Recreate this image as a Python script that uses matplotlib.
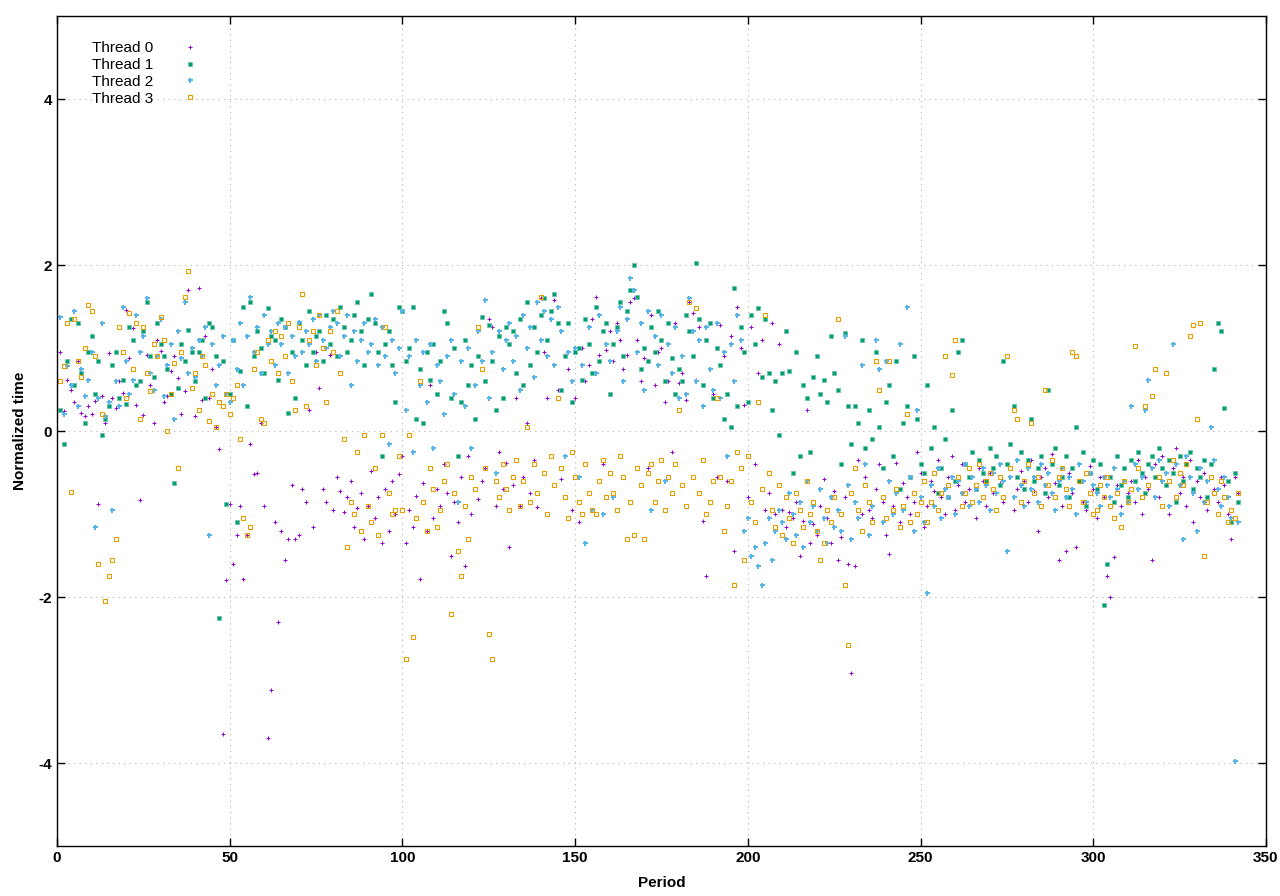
import numpy as np
import matplotlib
matplotlib.use("Agg")
import matplotlib.pyplot as plt

plt.rcParams['font.family'] = ['Liberation Sans', 'DejaVu Sans']
plt.rcParams['axes.unicode_minus'] = False

# normalized time per period for each thread (period 1..342)
thread0 = [
    0.95, 0.24, 0.62, 0.50, 0.35, 0.85, 0.22, 0.18, 0.30, 0.20,
    0.36, -0.88, 0.42, 0.10, 0.94, 0.40, 0.28, 0.60, 0.46, 1.46,
    0.88, 1.24, 0.31, -0.83, 0.19, 0.92, 0.55, 0.10, 1.10, 0.96,
    0.35, 0.42, 0.72, 0.90, 0.64, 0.20, 0.48, 1.70, 0.95, 0.18,
    1.72, 0.38, 1.15, 0.40, 0.75, 0.05, -0.22, -3.65, -1.80, -0.88,
    -1.60, -1.25, -0.90, -1.78, -1.25, -0.15, -0.52, -0.50, 0.10, -0.90,
    -3.70, -3.12, -1.10, -2.30, -1.20, -1.55, -1.30, -0.65, -1.30, -1.25,
    -0.70, -0.85, 0.25, -1.15, 0.95, 0.52, -0.70, -0.85, 0.92, -0.95,
    -0.55, -0.72, -0.98, -0.80, -0.60, -1.15, -0.93, -0.75, -1.30, -0.90,
    -0.48, -1.05, -0.80, -1.35, -0.70, -1.20, -0.60, -1.00, -0.52, -0.30,
    -1.35, -0.95, -1.15, -0.78, -1.78, -0.62, -1.20, 0.55, -1.05, -0.70,
    -0.90, -0.40, -0.75, -1.50, -0.85, -1.10, -0.55, -1.62, -0.30, -1.00,
    0.15, -0.82, -0.60, -0.45, 1.35, 1.25, -0.90, -0.25, -0.70, -0.38,
    -1.40, -0.65, 0.40, -0.90, -0.55, 0.10, -0.75, -0.35, -0.92, 1.60,
    0.95, 0.40, 1.35, 1.58, 0.50, -0.58, 0.92, 0.75, -0.95, 0.40,
    -1.10, 1.00, 0.60, 0.80, 1.35, 1.62, 0.92, -0.40, 0.98, 1.20,
    0.85, 1.30, 1.10, 0.75, 0.92, 1.55, 1.60, 1.10, 0.60, 0.88,
    -0.45, 1.40, 0.55, 0.95, 1.00, 0.35, 0.60, -0.25, 1.30, 0.58,
    0.70, 0.38, 1.55, 1.42, 0.62, 1.25, -1.08, -1.75, 1.30, 0.45,
    -0.55, 1.28, 0.90, -0.60, 1.15, -1.45, 1.50, 1.00, 0.32, -0.80,
    1.25, -0.40, 0.70, 1.10, -0.95, -0.75, 1.30, -1.00, 1.05, -0.95,
    -1.15, -0.98, -1.05, -0.85, -1.50, -1.08, 0.25, -1.35, -1.12, -1.25,
    -0.90, -0.58, -1.05, -1.35, -0.72, -1.55, -1.28, -0.80, -1.60, -2.92,
    -1.62, -0.35, -1.00, -0.55, -0.95, -1.05, -0.70, -0.40, -0.85, -1.25,
    -1.48, -0.90, -0.38, -1.10, -0.62, -0.80, -1.00, -0.85, -0.25, -0.50,
    -1.15, -0.90, -0.60, -0.72, -0.35, -0.80, -1.00, -0.55, -0.30, -0.95,
    -0.65, -0.40, -0.85, -0.70, -0.55, -1.05, -0.45, -0.60, -0.90, -0.50,
    -0.75, -0.30, -0.62, -0.85, -0.40, -0.55, -0.95, -0.70, -0.48, -0.60,
    -0.85, -0.35, -0.72, -1.20, -0.55, -0.45, -0.80, -0.28, -0.62, -1.55,
    -0.90, -1.45, -0.50, -0.75, -1.40, -0.60, -0.85, -0.95, -0.42, -0.70,
    -1.05, -0.55, -0.80, -1.75, -2.00, -1.52, -0.65, -0.90, -0.45, -0.75,
    -0.60, -0.85, -0.35, -1.00, -0.55, -0.70, -1.55, -0.40, -0.80, -0.30,
    -0.65, -1.00, -0.45, -0.20, -0.75, -0.55, -0.90, -0.35, -1.10, -0.60,
    -0.80, -0.50, -0.95, -0.40, -0.70, -0.85, -0.55, -0.65, -1.00, -1.30,
    -0.55, -0.75,
]
thread1 = [
    0.25, -0.15, 0.85, 1.35, 0.55, 1.30, 0.70, 0.10, 0.95, 1.15,
    0.45, 0.85, -0.05, 0.15, 0.30, 0.80, 0.95, 0.40, 0.62, 0.33,
    1.25, 1.10, 0.55, 0.60, 1.20, 1.55, 0.90, 0.65, 1.30, 1.05,
    0.90, 0.75, 0.45, -0.62, 0.52, 1.05, 0.85, 1.22, 0.95, 0.60,
    0.95, 1.10, 0.40, 1.30, 1.25, 0.90, -2.25, 0.85, -0.88, 0.45,
    1.10, -1.10, 0.72, 1.50, 0.30, 1.55, 0.90, 1.20, 1.00, 0.70,
    1.48, 1.15, 1.10, 0.62, 1.35, 1.25, 0.22, 0.95, 0.40, 1.30,
    1.10, 0.80, 1.45, 0.95, 1.15, 1.20, 0.85, 1.40, 1.05, 1.35,
    0.90, 1.50, 1.25, 0.95, 1.10, 1.40, 1.55, 1.20, 0.80, 1.35,
    1.65, 1.30, 0.95, -0.30, 1.05, 1.20, 0.80, 0.35, 1.50, 1.45,
    0.85, 1.00, 1.50, 0.15, 0.75, 0.10, 0.95, 0.62, 1.05, 0.45,
    0.85, 1.45, 1.30, 0.40, 1.00, -0.30, 0.35, 1.10, 0.55, 0.80,
    0.15, 0.90, 1.38, 0.60, 1.28, 0.85, 0.25, 1.15, 0.40, 1.25,
    1.05, 1.20, 0.70, 1.35, 0.55, 1.55, 0.80, 1.25, 0.95, 1.40,
    1.60, 1.10, 1.45, 1.65, 1.30, 0.50, 0.90, 1.30, 0.35, 0.95,
    1.00, 0.62, 1.35, 1.05, 0.70, 1.50, 0.85, 1.20, 1.30, 0.45,
    1.05, 1.25, 1.55, 0.90, 1.45, 1.70, 2.00, 1.62, 0.75, 1.00,
    0.85, 1.25, 0.95, 1.45, 1.10, 0.60, 1.30, 0.88, 0.45, 0.75,
    0.60, 1.40, 1.20, 0.90, 2.02, 1.35, 0.55, 1.10, 1.30, 0.40,
    1.00, 0.80, 0.15, 0.45, 0.05, 1.72, 0.30, 1.25, 0.95, 0.35,
    1.40, 1.05, 1.48, 0.65, 1.35, 0.70, 0.25, 0.60, -0.05, 0.70,
    1.20, 0.72, -0.50, 0.95, -0.30, 0.55, 0.40, -0.25, 0.65, 0.90,
    0.45, 0.62, 0.35, 1.15, 0.70, 0.50, -0.40, 1.18, 0.30, -0.15,
    0.30, 0.10, 1.10, -0.20, 0.25, -0.10, 0.95, 0.05, -0.45, 0.35,
    0.55, -0.30, 0.85, -0.70, 0.10, 0.30, -0.55, 0.90, 0.15, -0.40,
    -0.50, 0.55, -0.20, 0.05, -0.75, -0.45, -0.10, -0.80, 0.25, -0.60,
    0.95, 1.10, -0.40, -0.55, -0.25, -0.70, -0.35, -0.50, -0.60, -0.20,
    -0.45, -0.30, -0.65, 0.85, -0.40, -0.15, 0.30, -0.55, -0.25, -0.70,
    -0.35, 0.15, -0.60, -0.45, -0.30, -0.75, 0.50, -0.40, -0.20, -0.65,
    -0.55, -0.30, -0.80, -0.45, 0.05, -0.60, -0.25, -0.90, -0.50, -0.35,
    -0.70, -0.40, -2.10, -1.60, -0.55, -0.85, -0.30, -0.65, -0.45, -0.80,
    -0.35, -0.60, -0.25, -0.50, -0.75, -0.40, -0.30, -0.55, -0.20, -0.45,
    -0.65, -0.35, -0.50, -0.85, -0.30, -0.60, -0.40, -0.25, -0.70, -0.45,
    -0.55, -0.35, -0.80, -0.40, 0.75, 1.30, 1.20, 0.28, -0.60, -1.10,
    -0.50, -0.85,
]
thread2 = [
    1.38, 0.20, 0.78, 0.55, 1.45, 0.30, 0.75, 0.42, 0.62, 0.95,
    -1.15, 0.40, 1.30, 0.18, 0.35, -0.95, 0.60, 0.30, 1.50, 0.85,
    0.45, 0.62, 1.40, 0.95, 1.15, 1.60, 0.70, 0.50, 0.90, 1.35,
    0.42, 0.80, 1.05, 0.15, 1.20, 0.88, 1.55, 0.70, 1.00, 0.65,
    1.10, 0.90, 1.25, -1.25, 1.05, 0.55, 0.80, 1.15, 0.45, 0.35,
    1.10, 0.75, 1.30, 0.55, 1.15, 1.62, 0.95, 1.25, 0.70, 1.40,
    1.05, 1.20, 0.80, 1.30, 1.05, 1.25, 0.70, 1.15, 0.90, 1.32,
    0.95, 1.20, 1.05, 1.35, 0.85, 1.40, 1.10, 1.00, 1.25, 1.45,
    1.30, 0.90, 1.15, 1.40, 0.55, 1.20, 0.85, 1.10, 1.30, 0.95,
    1.05, 1.35, 0.80, 1.25, 0.90, -0.15, 1.10, 0.70, 1.00, 1.45,
    0.25, 0.90, -0.25, 1.10, 0.55, 0.95, 0.35, 1.05, -0.20, 0.80,
    0.60, 0.20, 0.90, 1.10, 0.45, -0.85, 0.85, 0.30, 1.00, -0.20,
    0.55, 1.20, 0.85, 1.58, 0.40, 0.95, -0.50, 1.20, 0.75, 1.10,
    1.30, 0.85, 1.15, 0.50, 1.40, 1.00, 1.25, 0.65, 1.55, 1.10,
    1.45, 0.90, 1.35, 0.80, 1.50, 1.20, -0.30, 0.95, 0.60, 1.00,
    -0.55, 0.80, -1.35, 1.25, -0.95, 0.70, 1.40, -1.00, 1.05, 0.85,
    -0.80, 1.20, 1.50, 0.60, 1.35, 1.85, 1.70, 0.95, 1.30, 0.50,
    1.45, -0.95, 1.15, 0.80, 1.40, -0.60, 1.05, 0.70, 1.25, 0.40,
    0.90, 0.45, 1.60, 1.20, 0.60, 1.10, 0.30, 1.25, 0.75, 0.50,
    1.30, 0.40, 0.95, -0.30, 1.05, 0.60, 1.40, 1.10, -1.20, -1.05,
    -1.50, -1.40, -1.62, -1.85, -1.35, -1.05, -1.55, -1.20, -0.95, -1.10,
    -1.30, -0.75, -1.00, -1.25, -0.85, -1.40, -0.60, -1.10, -0.90, -1.20,
    -0.70, -1.05, -1.35, -0.80, -1.15, -0.95, -1.20, 1.15, -0.65, -1.30,
    -0.85, -1.05, 0.80, -0.40, -1.25, -0.90, 1.10, 0.75, -1.10, 0.85,
    -0.60, -1.00, -0.75, 1.05, -0.95, 1.50, -0.55, -1.20, 0.25, -0.80,
    -1.10, -1.95, -0.65, -0.90, -0.45, -1.05, -0.70, -0.80, -0.55, -1.00,
    -0.60, -0.75, -0.40, -0.90, -0.55, -0.70, -0.85, -0.45, -0.65, -0.95,
    -0.50, -0.75, -0.40, -0.60, -1.45, -0.55, -0.80, -0.35, -0.65, -0.90,
    -0.45, -0.70, -0.55, -0.85, -0.40, -0.65, -0.50, -0.75, -0.95, -0.60,
    -0.45, -0.80, -0.55, -0.70, -1.00, -0.40, -0.60, -0.85, -0.50, -0.65,
    -0.75, -0.90, -0.55, -0.65, -0.80, -0.45, -0.70, -1.00, -0.60, -0.85,
    0.30, -0.40, -0.70, -0.55, 0.25, 0.62, -0.45, -0.80, -0.35, -0.60,
    -0.50, -0.90, 1.05, -0.40, -0.65, -1.30, -0.30, -0.55, -0.75, -1.20,
    -0.45, -0.85, -0.60, 0.05, -0.35, -0.70, -0.90, -0.55, -0.80, -1.05,
    -3.98, -1.10,
]
thread3 = [
    0.60, 0.78, 1.30, -0.73, 1.35, 0.85, 0.65, 1.00, 1.52, 1.45,
    0.90, -1.60, 0.20, -2.05, -1.75, -1.55, -1.30, 1.25, 0.95, 0.40,
    1.42, 0.75, 1.30, 0.15, 1.25, 0.70, 0.48, 1.05, 0.90, 1.38,
    1.10, 0.00, 0.45, 0.82, -0.45, 0.95, 1.62, 1.93, 0.52, 0.70,
    0.25, 0.90, 0.80, 0.12, 0.45, 0.05, 0.35, 0.30, 0.45, 0.20,
    0.40, 0.55, -0.10, -1.05, -1.25, -1.15, 0.75, 0.95, 0.15, 0.10,
    1.10, 0.85, 1.20, 0.70, 1.15, 0.90, 1.30, 0.60, 0.25, 1.25,
    1.65, 0.30, 1.10, 1.20, 0.80, 1.40, 1.00, 0.35, 1.20, 0.95,
    1.45, 0.70, -0.10, -1.40, -0.85, -1.00, -0.25, -1.20, -0.05, -0.90,
    -1.10, -0.45, -1.25, -0.05, 1.25, -0.75, -1.00, -0.95, -0.30, -0.95,
    -2.75, -0.05, -2.48, -1.05, 0.60, -0.85, -1.20, -0.45, -0.70, -1.15,
    -0.95, -0.60, -0.40, -2.20, -0.75, -1.45, -1.75, -0.90, -1.30, -0.55,
    -0.70, 1.25, 0.75, -0.45, -2.45, -2.75, -0.60, -0.80, -0.40, -0.70,
    -0.95, -0.55, -0.35, -0.90, -0.60, 0.05, -0.85, -0.40, -0.75, 1.62,
    -0.50, -1.00, -0.30, -0.65, 0.40, -0.45, -0.80, -1.05, -0.25, -0.55,
    -0.85, -1.00, -0.40, -0.75, -0.95, -1.00, -0.60, -0.35, -0.80, -0.50,
    -0.75, -0.95, -0.30, -0.55, -1.30, -0.85, -1.25, -0.45, -0.65, -1.30,
    -0.50, -0.40, -0.85, -0.60, -0.35, -0.95, -0.55, -0.75, -0.40, 0.25,
    -0.65, -0.90, 1.55, -0.55, 1.48, -0.75, -0.35, -1.00, -0.85, -0.60,
    0.40, -0.55, -1.20, -0.90, -0.60, -1.85, -0.25, -0.45, -1.55, -0.30,
    -0.85, -1.10, 0.35, -0.70, 1.40, -0.50, -0.95, -1.15, -0.65, -1.25,
    -0.80, -1.05, -1.35, -0.75, -0.95, -1.15, -0.60, -1.00, -0.85, -1.20,
    -1.55, -1.35, -0.95, -1.10, -0.80, 1.35, -1.00, -1.85, -2.58, -0.75,
    -0.45, -0.95, -1.20, -0.65, -0.85, -1.10, 0.85, 0.50, -0.80, -1.05,
    0.85, -0.95, -0.70, -1.15, -0.90, 0.20, -1.10, -0.75, -1.00, -0.85,
    -0.60, -1.10, -0.85, -0.50, -0.95, -0.75, 0.90, -0.65, 0.68, 1.10,
    -0.55, -0.90, -0.75, -0.45, -0.85, -0.65, -0.40, -0.80, -0.60, -0.50,
    -0.70, -0.95, -0.55, -0.80, 0.90, -0.45, 0.25, 0.15, -0.85, -0.60,
    -0.40, 0.10, -0.75, -0.55, -0.90, 0.50, -0.65, -0.35, -0.80, -0.55,
    -0.45, -0.70, -0.90, 0.95, 0.90, -0.60, -0.85, -0.50, -0.75, -1.00,
    -0.95, -0.65, -0.80, -0.55, -0.90, -1.05, -0.75, -1.15, -0.60, -0.85,
    -0.70, 1.02, -0.45, -0.80, 0.30, -0.65, 0.42, 0.75, -0.55, -0.90,
    0.70, -0.60, -0.35, -0.80, -0.50, -0.65, -0.40, 1.15, 1.28, 0.15,
    1.30, -1.50, -0.85, -0.55, -0.75, -1.00, -0.60, -0.80, -1.10, -0.95,
    -1.05, -0.75,
]
labels = ["Thread 0", "Thread 1", "Thread 2", "Thread 3"]
colors = ["#9400d3", "#009e73", "#56b4e9", "#e69f00"]

period = np.arange(1, len(thread0) + 1)

fig = plt.figure(figsize=(12.8, 8.96), dpi=100)
ax = fig.add_axes([0.0445, 0.0558, 0.9445, 0.9262])

ax.plot(period, thread0, ls='none', marker='+', ms=3.5, mew=0.7, color=colors[0], label=labels[0])
ax.plot(period, thread1, ls='none', marker='s', ms=2.3, mew=0.6, color='#6fc4ab',
        mfc=colors[1], label=labels[1])
ax.plot(period, thread2, ls='none', marker='P', ms=3.6, mew=0, color=colors[2], label=labels[2])
ax.plot(period, thread3, ls='none', marker='s', ms=2.8, mew=0.8, color=colors[3],
        mfc='none', label=labels[3])

ax.set_xlim(0, 350)
ax.set_ylim(-5, 5)
ax.set_xticks(np.arange(0, 351, 50))
ax.set_yticks([-4, -2, 0, 2, 4])
ax.grid(True, color='#b0b0b0', linestyle=(0, (1, 4)), linewidth=0.8)
ax.tick_params(direction='in', length=6, width=1, top=True, right=True, labelsize=11)
for lab in ax.get_xticklabels() + ax.get_yticklabels():
    lab.set_fontweight('bold')
for s in ax.spines.values():
    s.set_linewidth(1)

ax.set_xlabel("Period", fontsize=11, fontweight='bold', labelpad=8)
ax.set_ylabel("Normalized time", fontsize=11, fontweight='bold', labelpad=8)

leg = ax.legend(loc='upper left', frameon=False, markerfirst=False, fontsize=11,
                handletextpad=1.4, labelspacing=0.18, borderaxespad=0.0,
                bbox_to_anchor=(0.024, 0.977))

fig.savefig("out.png", dpi=100)
